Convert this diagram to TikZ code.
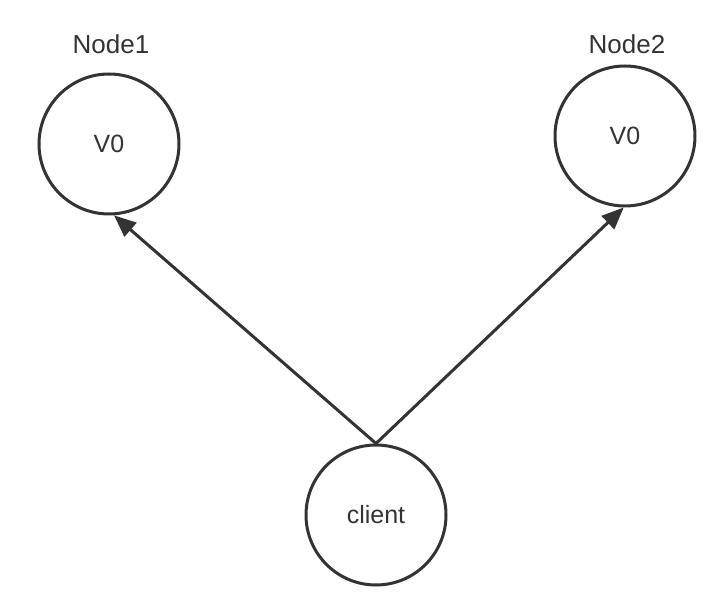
\documentclass[tikz,border=0pt]{standalone}
\usepackage{fontspec}
\setmainfont{Liberation Sans}
\usetikzlibrary{arrows.meta}
\definecolor{ink}{HTML}{333333}
\begin{document}
\begin{tikzpicture}[x=1pt,y=-1pt,
  circnode/.style={circle,draw=ink,line width=3pt,minimum size=140pt,inner sep=0pt,text=ink,font=\fontsize{25}{30}\selectfont},
  lbl/.style={text=ink,font=\fontsize{26}{31}\selectfont,inner sep=0pt},
  conn/.style={draw=ink,line width=3pt,-{Triangle[length=22pt,width=18pt]}}]
\useasboundingbox (0,0) rectangle (724,612);
\node[circnode] (n1) at (109,144) {V0};
\node[circnode] (n2) at (625,136) {V0};
\node[circnode] (cl) at (376,515) {client};
\node[lbl] (l1) at (111,44) {Node1};
\node[lbl] (l2) at (627,44) {Node2};
\draw[conn] (cl.north) -- (n1.-86);
\draw[conn] (cl.north) -- (n2.-91);
\end{tikzpicture}
\end{document}
